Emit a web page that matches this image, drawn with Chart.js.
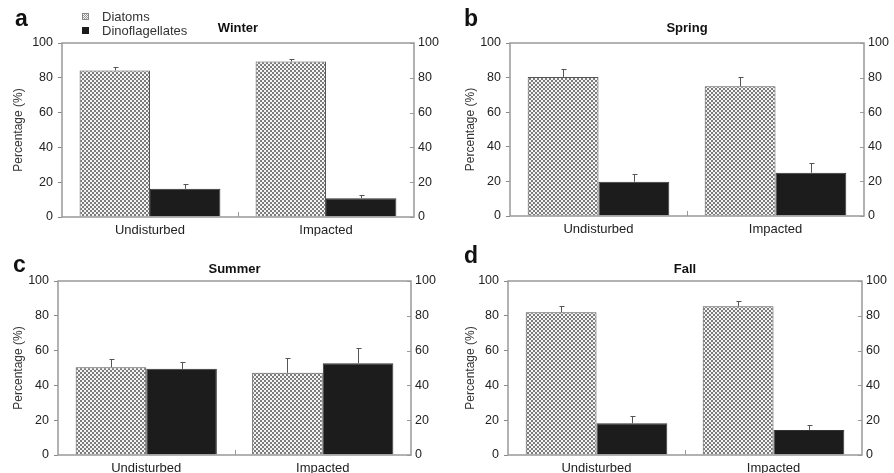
<!DOCTYPE html>
<html>
<head>
<meta charset="utf-8">
<script src="https://cdn.jsdelivr.net/npm/chart.js@4.4.1/dist/chart.umd.min.js"></script>
<style>
  body { margin: 0; background: #fff; width: 894px; height: 473px; overflow: hidden; position: relative;
         font-family: "Liberation Sans", Arial, sans-serif; color: #222; }
  canvas { position: absolute; }
  .letter { position: absolute; font-weight: bold; font-size: 23px; line-height: 23px; color: #111; }
  .legend { position: absolute; left: 82px; font-size: 13px; line-height: 14px; color: #333; }
  .legend span.sw { position: absolute; left: 0; top: 3px; width: 7px; height: 7px; box-sizing: border-box; }
  .legend span.tx { position: absolute; left: 20px; top: 0; white-space: nowrap; }
</style>
</head>
<body>
<canvas id="pa" width="447" height="236" style="left:0;top:0"></canvas>
<canvas id="pb" width="447" height="236" style="left:447px;top:0"></canvas>
<canvas id="pc" width="447" height="237" style="left:0;top:236px"></canvas>
<canvas id="pd" width="447" height="237" style="left:447px;top:236px"></canvas>

<div class="letter" style="left:15px;top:7px">a</div>
<div class="letter" style="left:464px;top:7px">b</div>
<div class="letter" style="left:13px;top:253px">c</div>
<div class="letter" style="left:464px;top:244px">d</div>

<div class="legend" style="top:10px">
  <span class="sw" style="border:1px solid #888;background:repeating-conic-gradient(#999 0 25%, #f4f4f4 0 50%) 0 0/2px 2px"></span>
  <span class="tx">Diatoms</span>
</div>
<div class="legend" style="top:24px">
  <span class="sw" style="background:#1c1c1c"></span>
  <span class="tx">Dinoflagellates</span>
</div>

<script>
// data (percentage of cells)
var sites = ["Undisturbed", "Impacted"];
var seasons = ["Winter", "Spring", "Summer", "Fall"];
var diatoms = [[84.2, 89.4], [80.4, 75.0], [50.5, 47.2], [82.0, 85.5]];
var diatomErr = [[2.2, 1.3], [4.4, 5.4], [4.5, 8.4], [3.4, 2.9]];
var dinos = [[16.2, 10.8], [19.8, 25.0], [49.5, 52.8], [18.2, 14.4]];
var dinoErr = [[2.7, 1.6], [4.4, 5.8], [3.8, 8.7], [4.0, 3.0]];
var yTicks = [0, 20, 40, 60, 80, 100];

// hatch pattern for the diatom bars
function makeHatch() {
    var c = document.createElement("canvas");
    c.width = 4; c.height = 4;
    var g = c.getContext("2d");
    g.fillStyle = "#f4f4f4";
    g.fillRect(0, 0, 4, 4);
    g.fillStyle = "#7c7c7c";
    g.fillRect(0, 0, 2, 2);
    g.fillRect(2, 2, 2, 2);
    return g.createPattern(c, "repeat");
}
var hatch = makeHatch();

// frame, inside ticks on the right axis, middle tick and error bars
var panelDecor = {
    id: "panelDecor",
    afterDatasetsDraw: function(chart, args, opts) {
        var ctx = chart.ctx, a = chart.chartArea;
        var x = chart.scales.x, yr = chart.scales.y2, y = chart.scales.y;
        ctx.save();
        // error bars
        ctx.strokeStyle = "#555";
        ctx.lineWidth = 1;
        chart.data.datasets.forEach(function(ds, di) {
            var meta = chart.getDatasetMeta(di);
            meta.data.forEach(function(bar, i) {
                var top = y.getPixelForValue(ds.data[i] + ds.errors[i]);
                var base = y.getPixelForValue(ds.data[i]);
                var cx = Math.round(bar.x) + 0.5;
                ctx.beginPath();
                ctx.moveTo(cx, base);
                ctx.lineTo(cx, Math.round(top) + 0.5);
                ctx.moveTo(cx - 2, Math.round(top) + 0.5);
                ctx.lineTo(cx + 3, Math.round(top) + 0.5);
                ctx.stroke();
            });
        });
        // frame
        ctx.strokeStyle = "#999";
        ctx.lineWidth = 1.5;
        ctx.strokeRect(a.left, a.top, a.right - a.left, a.bottom - a.top);
        // right ticks pointing inside
        ctx.lineWidth = 1;
        yr.ticks.forEach(function(t) {
            var py = Math.round(yr.getPixelForValue(t.value)) + 0.5;
            ctx.beginPath();
            ctx.moveTo(a.right - 4, py);
            ctx.lineTo(a.right, py);
            ctx.stroke();
        });
        // tick between the two sites
        var mid = Math.round((x.getPixelForValue(0) + x.getPixelForValue(1)) / 2) + 0.5;
        ctx.beginPath();
        ctx.moveTo(mid, a.bottom);
        ctx.lineTo(mid, a.bottom - 5);
        ctx.stroke();
        ctx.restore();
    }
};

function drawPanel(id, s, box) {
    var font = { family: "'Liberation Sans', Arial, sans-serif" };
    new Chart(document.getElementById(id), {
        type: "bar",
        data: {
            labels: sites,
            datasets: [
                {
                    label: "Diatoms",
                    data: diatoms[s],
                    errors: diatomErr[s],
                    backgroundColor: hatch,
                    borderColor: "#555",
                    borderWidth: 1
                },
                {
                    label: "Dinoflagellates",
                    data: dinos[s],
                    errors: dinoErr[s],
                    backgroundColor: "#1c1c1c",
                    borderColor: "#333",
                    borderWidth: 1
                }
            ]
        },
        options: {
            responsive: false,
            animation: false,
            layout: { padding: 0 },
            datasets: { bar: { categoryPercentage: 0.8, barPercentage: 1.0 } },
            plugins: {
                legend: { display: false },
                tooltip: { enabled: false },
                title: {
                    display: true,
                    text: seasons[s],
                    fullSize: false,
                    color: "#111",
                    font: { family: font.family, size: 13, weight: "bold", lineHeight: 1 },
                    padding: { top: box.titleTop, bottom: box.top - box.titleTop - 13 }
                }
            },
            scales: {
                x: {
                    grid: { display: false, drawTicks: false },
                    border: { display: false },
                    ticks: { color: "#222", padding: 6, font: { family: font.family, size: 13 } },
                    afterFit: function(sc) { sc.height = box.bottom; }
                },
                y: {
                    position: "left",
                    min: 0, max: 100,
                    afterBuildTicks: function(sc) { sc.ticks = yTicks.map(function(v) { return { value: v }; }); },
                    grid: { drawOnChartArea: false, drawTicks: true, tickLength: 4, color: "#888" },
                    border: { display: false },
                    ticks: { color: "#222", padding: 5, font: { family: font.family, size: 12.5 } },
                    title: {
                        display: true,
                        text: "Percentage (%)",
                        color: "#333",
                        font: { family: font.family, size: 12 },
                        padding: { top: box.ytitle, bottom: 0 }
                    },
                    afterFit: function(sc) { sc.width = box.left; }
                },
                y2: {
                    position: "right",
                    min: 0, max: 100,
                    afterBuildTicks: function(sc) { sc.ticks = yTicks.map(function(v) { return { value: v }; }); },
                    grid: { drawOnChartArea: false, drawTicks: false },
                    border: { display: false },
                    ticks: { color: "#222", padding: 4, font: { family: font.family, size: 12.5 } },
                    afterFit: function(sc) { sc.width = box.right; }
                }
            }
        },
        plugins: [panelDecor]
    });
}

drawPanel("pa", 0, { left: 62, right: 33, top: 43, bottom: 19, titleTop: 22, ytitle: 11 });
drawPanel("pb", 1, { left: 63, right: 30, top: 43, bottom: 20, titleTop: 22, ytitle: 16 });
drawPanel("pc", 2, { left: 58, right: 36, top: 45, bottom: 18, titleTop: 27, ytitle: 11 });
drawPanel("pd", 3, { left: 61, right: 32, top: 45, bottom: 18, titleTop: 27, ytitle: 16 });
</script>
</body>
</html>
